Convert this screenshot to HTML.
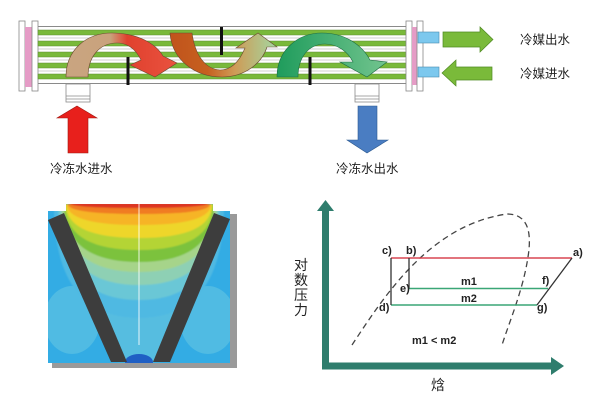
<!DOCTYPE html>
<html><head><meta charset="utf-8">
<style>
html,body{margin:0;padding:0;background:#fff;}
svg{display:block;}
.t{font-family:"Liberation Sans","Noto Sans CJK SC",sans-serif;fill:#222;}
.lb{font-family:"Liberation Sans",sans-serif;font-weight:bold;font-size:11px;fill:#222;}
</style></head>
<body>
<svg width="600" height="400" viewBox="0 0 600 400" xmlns="http://www.w3.org/2000/svg">
<defs>
  <linearGradient id="g1" gradientUnits="userSpaceOnUse" x1="66" y1="0" x2="177" y2="0">
    <stop offset="0" stop-color="#c9a581"/>
    <stop offset="0.4" stop-color="#c9a27c"/>
    <stop offset="0.55" stop-color="#e0412e"/>
    <stop offset="1" stop-color="#e9523f"/>
  </linearGradient>
  <linearGradient id="g2" gradientUnits="userSpaceOnUse" x1="170" y1="0" x2="277" y2="0">
    <stop offset="0" stop-color="#c1531c"/>
    <stop offset="0.35" stop-color="#c6601f"/>
    <stop offset="0.6" stop-color="#cf9a55"/>
    <stop offset="1" stop-color="#a3d8a2"/>
  </linearGradient>
  <linearGradient id="g3" gradientUnits="userSpaceOnUse" x1="277" y1="0" x2="387" y2="0">
    <stop offset="0" stop-color="#1f9c5c"/>
    <stop offset="1" stop-color="#72c48e"/>
  </linearGradient>
  <clipPath id="cfdclip">
    <polygon points="66,204 213,204 213,211 230,211 230,363 48,363 48,211 66,211"/>
  </clipPath>
  <filter id="soft" x="-10%" y="-10%" width="120%" height="120%">
    <feGaussianBlur stdDeviation="0.8"/>
  </filter>
</defs>

<!-- ===== Heat exchanger ===== -->
<rect x="19" y="21" width="6" height="70" fill="#fff" stroke="#888" stroke-width="0.8"/>
<rect x="25" y="27" width="7" height="60" fill="#e59cc6"/>
<rect x="32" y="21" width="6" height="70" fill="#fff" stroke="#888" stroke-width="0.8"/>
<g>
  <line x1="38" y1="26.5" x2="406" y2="26.5" stroke="#8a8a8a" stroke-width="1"/>
  <line x1="38" y1="83.5" x2="406" y2="83.5" stroke="#8a8a8a" stroke-width="1"/>
  <g fill="#79b93a" stroke="#5d8a30" stroke-width="0.5">
    <rect x="38" y="30" width="368" height="5"/>
    <rect x="38" y="41" width="368" height="5"/>
    <rect x="38" y="52" width="368" height="5"/>
    <rect x="38" y="63" width="368" height="5"/>
    <rect x="38" y="74" width="368" height="5"/>
  </g>
  <g stroke="#a0a0a0" stroke-width="0.6">
    <line x1="38" y1="38" x2="406" y2="38"/>
    <line x1="38" y1="49" x2="406" y2="49"/>
    <line x1="38" y1="60" x2="406" y2="60"/>
    <line x1="38" y1="71" x2="406" y2="71"/>
  </g>
</g>
<rect x="406" y="21" width="6" height="70" fill="#fff" stroke="#888" stroke-width="0.8"/>
<rect x="412" y="27" width="5" height="58" fill="#e59cc6"/>
<rect x="417" y="21" width="6" height="70" fill="#fff" stroke="#888" stroke-width="0.8"/>
<rect x="418" y="32" width="21" height="11" fill="#7cc8ee" stroke="#4a8ab0" stroke-width="0.6"/>
<rect x="418" y="67" width="21" height="10" fill="#7cc8ee" stroke="#4a8ab0" stroke-width="0.6"/>

<path d="M66,77 C66,50 86,33 112,33 C138,33 156,44 163,56 L177,63 L155,77 L130,65 L141,60 C136,50 128,43 117,43 C100,43 88,56 88,77 Z" fill="url(#g1)" stroke="#6b4a30" stroke-width="0.6"/>
<path d="M170,33 L192,33 C195,55 205,69 220,70 C232,70 240,60 245,48 L236,48 L258,33 L277,47 L267,47 C262,63 245,77 222,77 C195,77 172,60 170,33 Z" fill="url(#g2)" stroke="#6b4a30" stroke-width="0.6"/>
<path d="M277,77 C277,50 298,33 322,33 C345,33 362,45 370,60 L387,62 L367,77 L340,62 L353,62 C348,52 338,44 325,44 C308,44 298,58 298,77 Z" fill="url(#g3)" stroke="#1d6b40" stroke-width="0.6"/>

<rect x="126.5" y="57" width="3" height="28" fill="#111"/>
<rect x="220" y="27" width="3" height="28" fill="#111"/>
<rect x="308.5" y="57" width="3" height="28" fill="#111"/>

<g fill="#fff" stroke="#8a8a8a" stroke-width="0.8">
  <rect x="66" y="84" width="24" height="18"/>
  <line x1="66" y1="96" x2="90" y2="96"/>
  <line x1="66" y1="99" x2="90" y2="99"/>
  <rect x="355" y="84" width="24" height="18"/>
  <line x1="355" y1="96" x2="379" y2="96"/>
  <line x1="355" y1="99" x2="379" y2="99"/>
</g>

<polygon points="77,106 97,118 88,118 88,153 68,153 68,118 57,118" fill="#e8201c" stroke="#a01810" stroke-width="0.6"/>
<polygon points="358,106 377,106 377,140 388,140 367,153 347,140 358,140" fill="#4a7dc2" stroke="#2d5a90" stroke-width="0.6"/>
<polygon points="443,32 480,32 480,27 493,39.5 480,52 480,47 443,47" fill="#7aba3a" stroke="#4f8a22" stroke-width="0.7"/>
<polygon points="442,73 456,60 456,67 492,67 492,80 456,80 456,86" fill="#7aba3a" stroke="#4f8a22" stroke-width="0.7"/>

<text class="t" x="520" y="44" font-size="12.5">冷媒出水</text>
<text class="t" x="520" y="78" font-size="12.5">冷媒进水</text>
<text class="t" x="50" y="173" font-size="12.5">冷冻水进水</text>
<text class="t" x="336" y="173" font-size="12.5">冷冻水出水</text>

<!-- ===== CFD contour ===== -->
<rect x="230" y="214" width="7" height="154" fill="#9a9a9a"/>
<rect x="52" y="363" width="185" height="5" fill="#9a9a9a"/>
<g clip-path="url(#cfdclip)">
  <rect x="40" y="200" width="200" height="170" fill="#33ace4"/>
  <ellipse cx="72" cy="320" rx="28" ry="34" fill="#5cc2e2" opacity="0.7"/>
  <ellipse cx="208" cy="320" rx="28" ry="34" fill="#5cc2e2" opacity="0.7"/>
  <g filter="url(#soft)">
    <path d="M96,300 Q139,330 182,300 L160,362 L118,362 Z" fill="#56bde0"/>
    <path d="M54,204 Q54,318 139,318 Q224,318 224,204 Z" fill="#4fb9e2"/>
    <path d="M58,204 Q58,300 139,300 Q220,300 220,204 Z" fill="#6ac7d6"/>
    <path d="M60,204 Q60,285 139,285 Q218,285 218,204 Z" fill="#8ed0b4"/>
    <path d="M62,204 Q62,272 139,272 Q216,272 216,204 Z" fill="#a6d48a"/>
    <path d="M64,204 Q64,262 139,262 Q214,262 214,204 Z" fill="#7cc23e"/>
    <path d="M65,204 Q65,250 139,250 Q213,250 213,204 Z" fill="#b4d434"/>
    <path d="M66,204 Q66,238 139,238 Q212,238 212,204 Z" fill="#eed62c"/>
    <path d="M67,204 Q67,225 139,225 Q211,225 211,204 Z" fill="#f6b426"/>
    <path d="M68,204 Q68,214 139,214 Q210,214 210,204 Z" fill="#f07c24"/>
    <path d="M70,203 Q70,208 139,208 Q208,208 208,203 Z" fill="#dd3420"/>
  </g>
  <ellipse cx="139" cy="362" rx="14" ry="8" fill="#1f5fc4"/>
  <line x1="139" y1="204" x2="139" y2="345" stroke="#ffffff" stroke-width="1" opacity="0.85"/>
</g>
<polygon points="48,220 64,213 127,362 111,362" fill="#3d3d3d"/>
<polygon points="214,213 230,219 170,362 153,362" fill="#3d3d3d"/>

<!-- ===== P-h diagram ===== -->
<rect x="322" y="209" width="7" height="160.5" fill="#2f7d6d"/>
<polygon points="325.5,200 334,211 317,211" fill="#2f7d6d"/>
<rect x="322" y="362.5" width="232" height="7" fill="#2f7d6d"/>
<polygon points="564,366 551,357 551,375" fill="#2f7d6d"/>

<path d="M352,345 C385,295 430,225 507,214 C528,214 532,232 528,257 C523,290 510,320 502,345" fill="none" stroke="#444" stroke-width="1.3" stroke-dasharray="6,4"/>

<line x1="391" y1="258" x2="572" y2="258" stroke="#d94652" stroke-width="1.6"/>
<line x1="409" y1="288.5" x2="548" y2="288.5" stroke="#3aa676" stroke-width="1.6"/>
<line x1="391" y1="305" x2="537" y2="305" stroke="#3aa676" stroke-width="1.6"/>
<line x1="391" y1="258" x2="391" y2="305" stroke="#333" stroke-width="1.3"/>
<line x1="409" y1="258" x2="409" y2="288.5" stroke="#333" stroke-width="1.3"/>
<line x1="572" y1="258" x2="537" y2="305" stroke="#333" stroke-width="1.3"/>

<text class="lb" x="382" y="254">c)</text>
<text class="lb" x="406" y="254">b)</text>
<text class="lb" x="573" y="256">a)</text>
<text class="lb" x="461" y="285">m1</text>
<text class="lb" x="542" y="284">f)</text>
<text class="lb" x="400" y="292">e)</text>
<text class="lb" x="461" y="302">m2</text>
<text class="lb" x="379" y="311">d)</text>
<text class="lb" x="537" y="311">g)</text>
<text class="lb" x="412" y="344">m1 &lt; m2</text>

<text class="t" x="294" y="270" font-size="14">对</text>
<text class="t" x="294" y="285" font-size="14">数</text>
<text class="t" x="294" y="300" font-size="14">压</text>
<text class="t" x="294" y="315" font-size="14">力</text>
<text class="t" x="431" y="390" font-size="14">焓</text>
</svg>
</body></html>
